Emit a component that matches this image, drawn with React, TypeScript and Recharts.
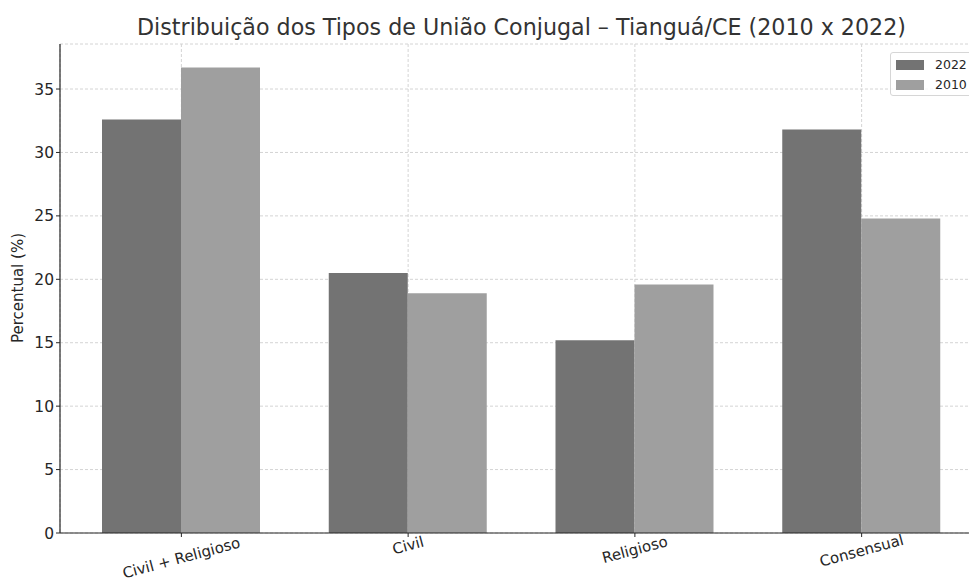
import { BarChart, Bar, XAxis, YAxis, CartesianGrid } from "recharts"

const categories = ["Civil + Religioso", "Civil", "Religioso", "Consensual"]
const values2022 = [32.6, 20.5, 15.2, 31.8]
const values2010 = [36.7, 18.9, 19.6, 24.8]
const yTicks = [0, 5, 10, 15, 20, 25, 30, 35]

const data = categories.map((cat, i) => ({
  cat,
  v2022: values2022[i],
  v2010: values2010[i],
}))

const FONT = "'DejaVu Sans', sans-serif"
const TEXT = "#262626"

const RotatedTick = (props: any) => {
  const { x, y, payload } = props
  const label: string = payload.value
  const w = label.length * 8.1
  const cy = y - 6 + (w * 0.2588 + 15 * 0.966) / 2
  return (
    <text
      x={x}
      y={cy}
      textAnchor="middle"
      dominantBaseline="central"
      transform={`rotate(-15, ${x}, ${cy})`}
      fontSize={15}
      fontFamily={FONT}
      fill={TEXT}
    >
      {label}
    </text>
  )
}

const LegendBox = () => (
  <div
    style={{
      position: "absolute",
      left: 890,
      top: 52,
      width: 100,
      height: 44,
      border: "1px solid #d6d6d6",
      borderRadius: 3,
      background: "rgba(255,255,255,0.8)",
      fontFamily: FONT,
      fontSize: 12.5,
      color: TEXT,
      boxSizing: "border-box",
    }}
  >
    {[
      { name: "2022", color: "#737373" },
      { name: "2010", color: "#9f9f9f" },
    ].map((item, i) => (
      <div key={item.name} style={{ position: "absolute", left: 5, top: 5 + i * 20, display: "flex", alignItems: "center" }}>
        <div style={{ width: 28, height: 10, background: item.color }} />
        <span style={{ marginLeft: 11, lineHeight: "14px" }}>{item.name}</span>
      </div>
    ))}
  </div>
)

export default function App() {
  return (
    <div style={{ position: "absolute", left: 0, top: 0, width: 969, height: 583, overflow: "hidden", background: "#fff" }}>
      <div
        style={{
          position: "absolute",
          left: 0,
          width: 1043,
          top: 14,
          textAlign: "center",
          fontFamily: FONT,
          fontSize: 22.2,
          color: "#333",
          whiteSpace: "nowrap",
        }}
      >
        Distribuição dos Tipos de União Conjugal – Tianguá/CE (2010 x 2022)
      </div>
      <div
        style={{
          position: "absolute",
          left: 18,
          top: 288,
          transform: "translate(-50%, -50%) rotate(-90deg)",
          fontFamily: FONT,
          fontSize: 15,
          color: TEXT,
          whiteSpace: "nowrap",
        }}
      >
        Percentual (%)
      </div>
      <div style={{ position: "absolute", left: 0, top: 0 }}>
        <BarChart
          width={983}
          height={583}
          data={data}
          margin={{ top: 44, right: 0, left: 0, bottom: 0 }}
          barCategoryGap={34}
          barGap={0}
        >
          <CartesianGrid stroke="#d4d4d4" strokeDasharray="3 2" />
          <XAxis
            dataKey="cat"
            height={50}
            padding={{ left: 8, right: 8 }}
            axisLine={{ stroke: "#262626", strokeWidth: 1.2 }}
            tickLine={{ stroke: "#262626" }}
            tickSize={4}
            interval={0}
            tick={<RotatedTick />}
          />
          <YAxis
            width={60}
            domain={[0, 38.55]}
            ticks={yTicks}
            allowDataOverflow
            axisLine={{ stroke: "#262626", strokeWidth: 1.2 }}
            tickLine={{ stroke: "#262626" }}
            tickSize={4}
            tick={{ fontSize: 15.5, fontFamily: FONT, fill: TEXT }}
          />
          <Bar dataKey="v2022" name="2022" fill="#737373" isAnimationActive={false} />
          <Bar dataKey="v2010" name="2010" fill="#9f9f9f" isAnimationActive={false} />
        </BarChart>
      </div>
      <LegendBox />
    </div>
  )
}
